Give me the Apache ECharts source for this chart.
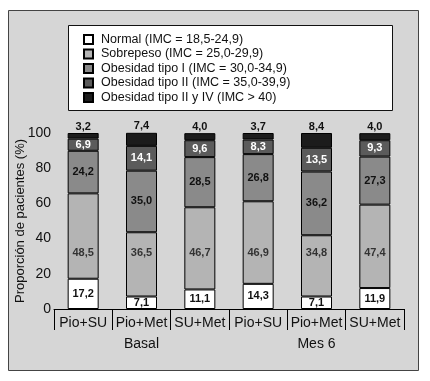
<!DOCTYPE html>
<html>
<head>
<meta charset="utf-8">
<script src="https://cdn.jsdelivr.net/npm/echarts@6/dist/echarts.min.js"></script>
<style>
html,body{margin:0;padding:0;background:#fff;}
#c{width:430px;height:381px;}
</style>
</head>
<body>
<div id="c"></div>
<script>
const categories = ['Pio+SU','Pio+Met','SU+Met','Pio+SU','Pio+Met','SU+Met'];
const groups = ['Basal','Mes 6'];
const seriesNames = ['Normal (IMC = 18,5-24,9)','Sobrepeso (IMC = 25,0-29,9)','Obesidad tipo I (IMC = 30,0-34,9)','Obesidad tipo II (IMC = 35,0-39,9)','Obesidad tipo II y IV (IMC > 40)'];
const normal = [17.2, 7.1, 11.1, 14.3, 7.1, 11.9];
const sobrepeso = [48.5, 36.5, 46.7, 46.9, 34.8, 47.4];
const obesidad1 = [24.2, 35.0, 28.5, 26.8, 36.2, 27.3];
const obesidad2 = [6.9, 14.1, 9.6, 8.3, 13.5, 9.3];
const obesidad34 = [3.2, 7.4, 4.0, 3.7, 8.4, 4.0];
const sobrepesoLabelY = [32, 32, 32, 32, 32, 32];
const yTicks = [0, 20, 40, 60, 80, 100];

const colors = ['#ffffff', '#b4b4b4', '#8a8a8a', '#5b5b5b', '#1c1c1c'];
const labelColors = ['#111', '#111', '#111', '#fff', '#111'];
const fmt = v => v.toFixed(1).replace('.', ',');
const font = '"Liberation Sans", Arial, sans-serif';
const values = [normal, sobrepeso, obesidad1, obesidad2, obesidad34];

const chart = echarts.init(document.getElementById('c'), null, {renderer: 'canvas'});

const series = values.map((arr, i) => ({
  name: seriesNames[i],
  type: 'bar',
  stack: 'total',
  barWidth: 31,
  data: arr,
  itemStyle: {color: colors[i], borderColor: '#000', borderWidth: 1},
  label: {
    show: i !== 1,
    position: i === 4 ? 'top' : 'inside',
    distance: 1,
    formatter: p => fmt(p.value),
    color: labelColors[i],
    fontWeight: 'bold',
    fontSize: 11,
    fontFamily: font
  },
  emphasis: {disabled: true},
  animation: false
}));

series.push({
  type: 'scatter',
  data: sobrepesoLabelY.map((y, i) => [i, y]),
  symbolSize: 0,
  silent: true,
  label: {
    show: true,
    position: 'inside',
    formatter: p => fmt(sobrepeso[p.dataIndex]),
    color: '#111',
    fontWeight: 'bold',
    fontSize: 11,
    fontFamily: font
  },
  animation: false
});

chart.setOption({
  backgroundColor: '#ffffff',
  animation: false,
  graphic: [
    {type: 'rect', z: -10, shape: {x: 8.5, y: 10.5, width: 410, height: 360}, style: {fill: '#d6d6d6', stroke: '#444', lineWidth: 1}},
    {type: 'rect', z: -5, shape: {x: 68.5, y: 25.5, width: 324, height: 85}, style: {fill: '#ffffff', stroke: '#111', lineWidth: 1}}
  ],
  legend: {
    orient: 'vertical',
    left: 83,
    top: 33,
    icon: 'rect',
    itemWidth: 9,
    itemHeight: 9,
    itemGap: 1.5,
    padding: 0,
    data: seriesNames,
    textStyle: {fontSize: 12.5, color: '#111', fontFamily: font, padding: [0, 0, 0, 3]},
    selectedMode: false
  },
  grid: {left: 54, right: 26, top: 133, bottom: 72, containLabel: false},
  xAxis: [
    {
      type: 'category',
      data: categories,
      axisLine: {show: true, lineStyle: {color: '#000', width: 1}},
      axisTick: {show: true, length: 21, interval: 0, lineStyle: {color: '#000'}},
      axisLabel: {fontSize: 14, color: '#111', margin: 7, fontFamily: font, interval: 0}
    },
    {
      type: 'category',
      data: groups,
      position: 'bottom',
      offset: 0,
      axisLine: {show: false},
      axisTick: {show: false},
      axisLabel: {fontSize: 14, color: '#111', margin: 28, fontFamily: font, interval: 0}
    }
  ],
  yAxis: {
    type: 'value',
    min: 0,
    max: 100,
    interval: 20,
    axisLine: {show: false},
    axisTick: {show: false},
    splitLine: {show: false},
    axisLabel: {fontSize: 14, color: '#111', margin: 3, fontFamily: font, customValues: yTicks},
    name: 'Proporción de pacientes (%)',
    nameLocation: 'middle',
    nameGap: 27,
    nameMoveOverlap: false,
    nameTextStyle: {fontSize: 13, color: '#111', fontFamily: font}
  },
  series: series
});
</script>
</body>
</html>
